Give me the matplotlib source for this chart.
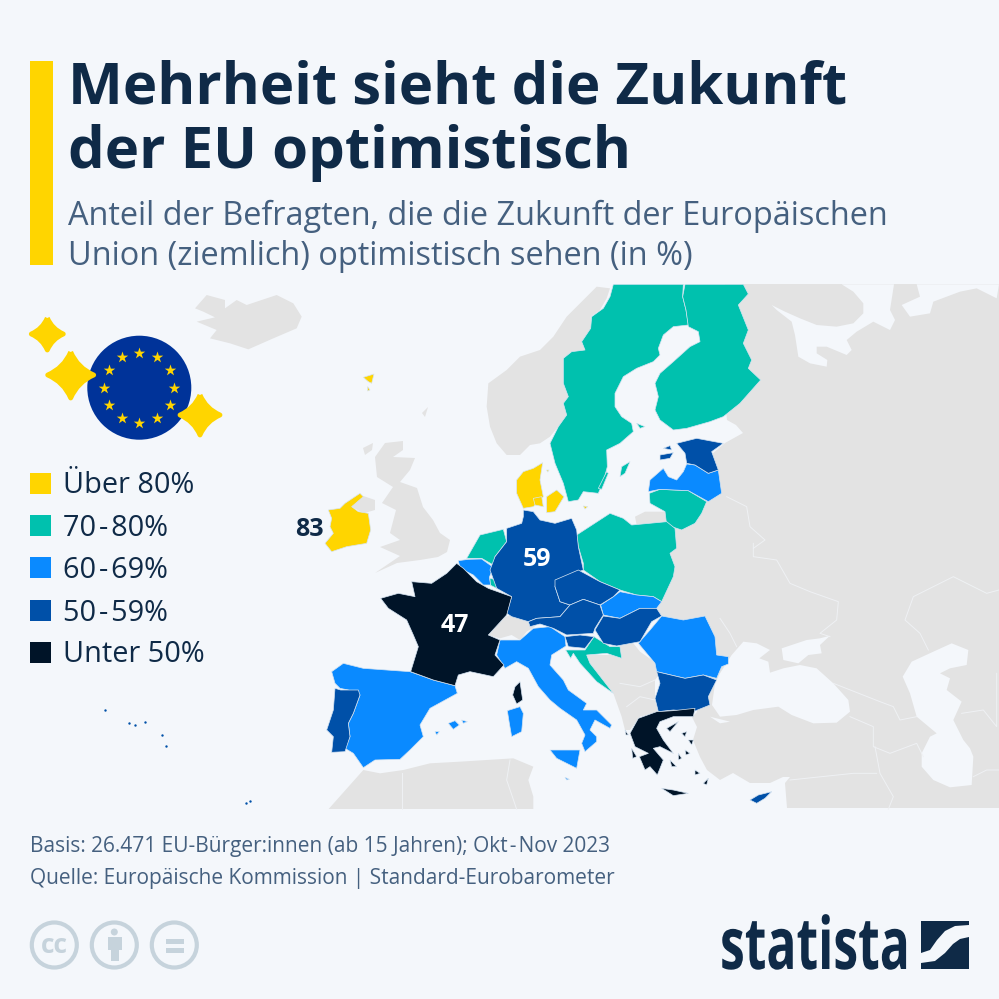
import numpy as np
import matplotlib
matplotlib.use('Agg')
import matplotlib.pyplot as plt
from matplotlib.patches import Polygon, Circle, Rectangle, PathPatch
from matplotlib.path import Path
from matplotlib.patheffects import AbstractPathEffect
from matplotlib.transforms import Affine2D

BG = '#f4f7fb'
YELLOW = '#ffd500'
TEAL = '#00c1ae'
BLUE = '#0a8aff'
DARKBLUE = '#0050a8'
BLACK = '#001428'
GRAY = '#e3e3e3'
NAVY = '#0f2a47'
SLATE = '#45607f'
ICON = '#c6d3dc'

# Legende
legend_labels = ['Über 80%', '70\u200a-\u200a80%', '60\u200a-\u200a69%', '50\u200a-\u200a59%', 'Unter 50%']
legend_colors = [YELLOW, TEAL, BLUE, DARKBLUE, BLACK]

# Werte auf der Karte
map_values = ['83', '59', '47']

A = (320, 280, 3)
B = (320, 540, 3)
C = (720, 280, 3)
D = (720, 540, 3)
E = (100, 280, 3)
F = (440, 490, 3)
P = (0, 0, 1)

# Graue Länder
iceland = (E, [(285,85),(320,45),(375,60),(375,85),(410,60),(440,75),(530,45),(580,70),(605,110),(590,145),(520,175),(445,208),(390,190),(330,175),(350,150),(290,125),(345,112),(310,95)])
britain = (P, [(385,443),(403,441),(403,450),(393,457),(415,458),(410,470),(400,482),(417,488),(423,507),(433,520),(440,533),(450,540),(447,552),(438,557),(420,560),(397,563),(375,573),(400,556),(380,547),(400,540),(390,533),(396,510),(382,503),(393,487),(377,477),(375,457)])
hebrides = (P, [(363,448),(373,443),(372,450),(365,455)])
shetland = (P, [(422,413),(428,407),(425,417)])
n_ireland = (E, [(755,680),(790,648),(825,660),(825,690),(790,700)])
norway = (A, [(870,25),(860,55),(840,90),(812,110),(815,145),(785,185),(795,210),(755,215),(730,235),(730,310),(745,350),(730,370),(740,405),(715,440),(690,470),(660,490),(630,495),(600,525),(560,525),(530,490),(510,440),(500,380),(505,310),(560,270),(600,230),(660,210),(700,170),(740,110),(790,60),(830,20)])
east = (P, [(725,284),(999,284),(999,808),(787,808),(785,783),(790,777),(783,777),(770,783),(750,783),(733,773),(720,780),(707,770),(700,757),(693,740),(697,727),(692,717),(697,712),(690,690),(690,640),(655,612),(650,580),(650,540),(670,520),(700,490),(705,460),(725,443),(743,433),(736,425),(727,420),(725,400)])
kaliningrad = (A, [(945,710),(975,695),(1040,695),(1040,725),(950,735)])
balkans = (B, [(900,310),(940,310),(960,335),(1010,370),(1020,400),(1005,420),(1005,480),(1015,515),(960,530),(930,570),(915,570),(905,530),(880,460),(810,370),(800,345),(900,345)])
swiss = (B, [(505,285),(530,255),(540,235),(590,220),(625,235),(645,260),(620,275),(600,300),(575,285),(540,295)])
africa = (B, [(25,808),(130,690),(180,700),(250,690),(330,670),(420,665),(580,655),(640,680),(625,720),(640,770),(640,808)])

# Wasserflächen über dem Festland
white_sea = (C, [(365,13),(400,35),(430,70),(430,100),(400,130),(350,140),(290,135),(240,115),(195,95),(155,75),(170,90),(215,125),(225,165),(235,230),(270,250),(320,260),(322,240),(290,220),(290,200),(320,200),(380,225),(395,210),(380,180),(410,155),(460,125),(510,150),(525,120),(510,90),(522,13)])
barents = (C, [(590,13),(600,50),(545,75),(570,110),(630,100),(640,65),(720,35),(770,25),(830,55),(837,13)])
black_sea = (D, [(0,530),(50,525),(100,510),(175,500),(215,525),(280,550),(350,548),(390,515),(385,480),(340,430),(290,385),(240,375),(190,385),(150,398),(145,365),(118,355),(150,330),(110,310),(70,305),(35,345),(0,400),(-15,430),(-24,495)])
azov = (D, [(185,325),(260,300),(300,295),(330,287),(300,315),(305,340),(265,345),(235,370),(190,360)])
marmara = (D, [(-30,530),(30,545),(0,550)])
caspian = (D, [(695,310),(745,330),(740,375),(690,385),(660,400),(690,415),(680,450),(725,485),(700,540),(730,600),(750,625),(760,650),(755,735),(690,742),(640,720),(605,680),(605,640),(630,590),(650,580),(590,530),(570,460),(548,410),(575,365),(640,335)])

# Länder nach Kategorie
over80 = [
    (E, [(735,670),(780,640),(790,650),(755,680),(775,695),(805,700),(812,750),(800,790),(740,800),(695,815),(675,790),(700,760),(690,740),(695,715),(685,690),(720,685)]),
    (E, [(790,292),(822,282),(815,310),(805,305)]),
    (E, [(803,320),(810,330),(803,333)]),
    (A, [(590,600),(610,575),(640,565),(668,548),(660,600),(670,650),(640,680),(610,685),(590,640)]),
    (A, [(680,650),(710,630),(732,650),(705,695),(680,698)]),
    (A, [(640,655),(665,650),(670,680),(645,675)]),
    (A, [(790,678),(803,680),(795,687)]),
    (A, [(680,570),(687,570),(683,576)]),
]
from70 = [
    (A, [(880,13),(1090,13),(1088,50),(1098,90),(1105,135),(1060,140),(1030,165),(1015,205),(1020,225),(1000,245),(950,265),(910,290),(885,340),(885,380),(905,410),(935,430),(940,455),(900,490),(860,510),(862,560),(850,605),(835,640),(790,635),(775,660),(745,665),(730,610),(705,550),(690,490),(715,440),(740,405),(730,370),(745,350),(730,310),(730,235),(755,215),(795,210),(785,185),(812,145),(815,110),(850,85),(870,50)]),
    (A, [(1095,13),(1270,13),(1285,42),(1255,75),(1285,150),(1270,190),(1295,240),(1285,265),(1322,300),(1260,370),(1210,410),(1170,425),(1100,445),(1060,450),(1020,420),(1005,390),(1015,350),(1005,310),(1020,280),(1060,245),(1110,200),(1140,185),(1135,155),(1105,140),(1098,90),(1088,50)]),
    (A, [(950,430),(975,440),(960,445)]),
    (A, [(900,590),(905,560),(930,545),(915,580)]),
    (A, [(835,625),(860,575),(865,580),(845,628)]),
    (A, [(988,640),(1020,628),(1105,632),(1160,665),(1145,700),(1125,730),(1085,750),(1040,735),(1035,695),(990,670)]),
    (F, [(410,135),(510,70),(550,85),(575,105),(680,95),(705,115),(710,175),(690,190),(705,230),(700,260),(665,335),(640,320),(590,315),(540,300),(480,275),(430,240),(430,220),(415,170)]),
    (F, [(80,205),(120,135),(190,118),(200,155),(165,200),(160,225),(125,205)]),
    (F, [(150,265),(170,270),(170,295),(150,285)]),
    (B, [(795,330),(822,290),(870,320),(900,320),(905,355),(860,340),(800,345),(810,370),(880,460),(830,425),(780,370),(760,340),(752,355),(737,330)]),
]
from60 = [
    (A, [(985,635),(990,600),(1030,565),(1045,590),(1070,600),(1090,575),(1100,552),(1125,555),(1165,580),(1195,570),(1205,640),(1165,665),(1105,632),(1020,628)]),
    (F, [(55,212),(85,208),(125,207),(160,232),(148,262),(152,285),(130,285),(100,255),(60,235)]),
    (F, [(482,345),(520,320),(540,305),(590,315),(640,320),(665,335),(650,355),(600,355),(540,385),(490,375)]),
    (B, [(955,310),(990,270),(1025,228),(1090,240),(1155,228),(1185,290),(1190,345),(1225,350),(1225,372),(1205,380),(1190,415),(1150,405),(1095,415),(1010,395),(1005,370)]),
    (B, [(35,395),(70,370),(130,385),(270,395),(340,420),(405,437),(412,460),(330,505),(300,555),(310,590),(270,630),(240,658),(165,660),(130,683),(100,640),(75,625),(90,590),(85,550),(100,520),(120,465),(85,450),(60,445),(45,430)]),
    (B, [(385,550),(405,542),(418,555),(400,568)]),
    (B, [(425,540),(442,545),(430,550)]),
    (B, [(345,575),(358,575),(350,585)]),
    (B, [(530,345),(540,300),(575,300),(600,300),(640,265),(690,260),(735,290),(738,318),(695,345),(690,375),(730,420),(745,450),(800,490),(790,510),(830,510),(875,555),(870,565),(825,540),(810,570),(830,590),(830,605),(795,635),(785,610),(795,585),(770,540),(720,505),(690,480),(655,440),(625,385),(590,365),(555,385)]),
    (B, [(690,630),(780,630),(770,685),(740,670),(710,655)]),
    (B, [(562,512),(600,500),(610,520),(605,575),(575,590),(568,550)]),
    (B, [(735,712),(748,718),(740,720)]),
]
from50 = [
    (A, [(1070,490),(1130,475),(1210,490),(1175,515),(1195,570),(1165,580),(1125,555),(1100,550),(1095,520)]),
    (A, [(1020,525),(1060,518),(1050,535),(1020,540)]),
    (A, [(1030,505),(1050,497),(1055,510)]),
    (F, [(250,60),(280,65),(300,90),(345,100),(395,85),(410,120),(415,170),(430,240),(350,270),(345,290),(360,335),(390,345),(360,380),(290,385),(265,395),(215,380),(200,370),(215,320),(170,295),(150,240),(165,200),(200,155),(200,115),(245,100),(250,80)]),
    (F, [(345,270),(415,240),(480,275),(540,300),(520,320),(480,345),(430,328),(390,345),(360,335),(345,290)]),
    (F, [(265,395),(290,385),(360,380),(390,345),(430,328),(480,345),(490,375),(465,415),(460,430),(380,435),(340,415),(300,402),(270,410)]),
    (F, [(490,378),(540,385),(600,355),(650,355),(665,378),(635,395),(600,455),(530,468),(490,460),(465,420)]),
    (B, [(735,290),(780,285),(822,290),(795,325),(745,320)]),
    (B, [(1010,395),(1095,415),(1150,405),(1190,420),(1165,470),(1170,495),(1120,515),(1060,510),(1015,515),(1005,475),(1020,430)]),
    (B, [(45,445),(62,450),(115,450),(120,465),(100,520),(85,550),(90,590),(75,635),(35,637),(40,590),(20,570),(40,510)]),
    (D, [(90,780),(115,765),(155,755),(135,775),(110,790)]),
]
under50 = [
    (B, [(410,70),(430,85),(470,125),(505,145),(575,170),(560,225),(505,285),(540,300),(525,345),(552,375),(520,410),(450,395),(415,405),(405,437),(340,420),(272,395),(295,320),(280,285),(260,240),(205,205),(182,175),(235,160),(285,170),(275,125),(335,130),(380,100)]),
    (B, [(600,425),(608,480),(590,492),(578,465),(585,440)]),
    (B, [(930,580),(955,535),(1010,515),(1060,512),(1125,505),(1120,530),(1060,530),(1020,545),(1010,565),(1030,600),(1060,640),(1020,620),(1000,625),(1030,660),(1012,705),(990,680),(975,690),(958,650),(985,640),(945,620)]),
    (B, [(1025,745),(1060,750),(1105,760),(1060,767)]),
    (B, [(1105,600),(1120,600),(1115,615)]),
    (B, [(1095,630),(1110,640),(1098,645)]),
    (B, [(1150,730),(1165,715),(1160,735)]),
    (B, [(1040,565),(1075,545),(1050,575)]),
    (B, [(915,570),(925,585),(918,585)]),
    (B, [(935,625),(950,650),(938,655)]),
    (B, [(1050,660),(1070,680),(1055,680)]),
    (B, [(1125,690),(1140,700),(1125,705)]),
    (B, [(1075,640),(1085,655),(1075,660)]),
    (B, [(1085,580),(1100,575),(1095,590)]),
]
# Azoren, Madeira, Kanaren (nur als Punkte)
atlantic_x = [105, 129, 135, 145, 162, 166, 246, 250]
atlantic_y = [710, 723, 725, 722, 735, 746, 803, 801]

# Blasse Grenzlinien
border_lines = [
    (C, [(20,650),(80,680),(90,740),(135,780),(100,805)]),
    (D, [(100,10),(100,50),(170,60),(210,130),(270,155),(355,185),(350,240),(300,280),(330,290)]),
    (D, [(0,235),(30,280),(50,320)]),
    (D, [(625,330),(600,280),(555,240),(580,170),(700,110),(800,160),(837,150)]),
    (D, [(340,430),(480,485),(520,500),(540,540),(590,530)]),
    (D, [(390,530),(460,560),(460,620),(510,640),(590,610),(610,650)]),
    (D, [(465,620),(480,700),(520,770),(505,808)]),
    (D, [(210,720),(400,700),(470,700)]),
    (D, [(725,520),(790,510),(830,560),(830,400)]),
    (D, [(760,710),(800,690),(837,690)]),
    (B, [(245,700),(245,808)]),
    (B, [(570,660),(560,720),(590,808)]),
    (B, [(900,430),(960,440),(1005,420)]),
    (B, [(920,500),(960,470),(1005,480)]),
]


def to_px(shape):
    origin, coords = shape
    return [(origin[0] + x / origin[2], origin[1] + y / origin[2]) for x, y in coords]


class SqueezeX(AbstractPathEffect):
    # Logo-Schrift ist schmaler als alle installierten Schriften
    def __init__(self, sx, x0):
        super().__init__()
        self.sx = sx
        self.x0 = x0

    def draw_path(self, renderer, gc, tpath, affine, rgbFace=None):
        squeeze = Affine2D().translate(-self.x0, 0).scale(self.sx, 1).translate(self.x0, 0)
        renderer.draw_path(gc, tpath, affine + squeeze, rgbFace)


fig = plt.figure(figsize=(9.99, 9.99), dpi=100, facecolor=BG)
ax = fig.add_axes([0, 0, 1, 1])
ax.set_xlim(0, 999)
ax.set_ylim(999, 0)
ax.axis('off')

plt.rcParams['font.family'] = ['Open Sans', 'DejaVu Sans']

map_clip = Rectangle((0, 284), 999, 524.5, transform=ax.transData)


def add_shape(shape, color, edge=None, lw=0, z=2):
    p = Polygon(to_px(shape), closed=True, facecolor=color, edgecolor=edge if edge else color, linewidth=lw, zorder=z, joinstyle='round')
    ax.add_patch(p)
    p.set_clip_path(map_clip)


# Kopfzeile
ax.add_patch(Rectangle((30, 61), 23, 204, color=YELLOW, lw=0))
ax.text(68, 103, 'Mehrheit sieht die Zukunft', fontsize=41.9, fontweight='bold', color=NAVY, va='baseline')
ax.text(68, 168, 'der EU optimistisch', fontsize=41.9, fontweight='bold', color=NAVY, va='baseline')
ax.text(68, 225, 'Anteil der Befragten, die die Zukunft der Europäischen', fontsize=23.4, color=SLATE, va='baseline')
ax.text(68, 265, 'Union (ziemlich) optimistisch sehen (in %)', fontsize=23.4, color=SLATE, va='baseline')

# Graues Festland
for shape in [iceland, britain, hebrides, shetland, n_ireland, norway, east, kaliningrad, balkans, swiss, africa]:
    add_shape(shape, GRAY, z=2)
for shape in [white_sea, barents, black_sea, azov, marmara, caspian]:
    add_shape(shape, BG, z=3)
for line in border_lines:
    xy = np.array(to_px(line))
    ax.plot(xy[:, 0], xy[:, 1], color='#eff1f4', lw=0.7, zorder=4, clip_path=map_clip)

# EU-Länder
for group, color in zip([over80, from70, from60, from50, under50], legend_colors):
    for shape in group:
        add_shape(shape, color, edge='#d6e4f2', lw=0.5, z=5)
ax.scatter(atlantic_x, atlantic_y, s=3, color=DARKBLUE, linewidths=0, zorder=5)

# Werte
ax.text(309, 536, map_values[0], fontsize=18, fontweight='bold', color=NAVY, ha='center', va='baseline', zorder=6)
ax.text(537, 566, map_values[1], fontsize=18, fontweight='bold', color='white', ha='center', va='baseline', zorder=6)
ax.text(455, 632, map_values[2], fontsize=18, fontweight='bold', color='white', ha='center', va='baseline', zorder=6)

# Legende
legend_tops = [473, 515, 557, 600, 642]
legend_base = [493, 536, 578, 621, 662]
for top, base, label, color in zip(legend_tops, legend_base, legend_labels, legend_colors):
    ax.add_patch(Rectangle((30, top), 21, 21, color=color, lw=0))
    ax.text(63, base, label, fontsize=20.8, color=NAVY, va='baseline')

# EU-Flagge
ax.add_patch(Circle((139.3, 387.7), 52, color='#003399', lw=0, zorder=6))
angles = np.arange(12) * np.pi / 6
ax.scatter(139.3 + 35 * np.sin(angles), 387.7 - 35 * np.cos(angles), marker='*', s=75, color=YELLOW, linewidths=0, zorder=7)


def sparkle(cx, cy, r):
    k = 0.3 * r
    verts = [(cx, cy - r), (cx + k, cy - k), (cx + r, cy), (cx + k, cy + k), (cx, cy + r), (cx - k, cy + k), (cx - r, cy), (cx - k, cy - k), (cx, cy - r)]
    codes = [Path.MOVETO] + [Path.CURVE3] * 8
    ax.add_patch(PathPatch(Path(verts, codes), facecolor=YELLOW, edgecolor=YELLOW, lw=3.5, joinstyle='round', zorder=8))


sparkle(47.3, 334, 16)
sparkle(70.7, 375, 23)
sparkle(200, 415, 20)

# Fußzeile
ax.text(30, 852, 'Basis: 26.471 EU-Bürger:innen (ab 15 Jahren); Okt\u200a-\u200aNov 2023', fontsize=15, color=SLATE, va='baseline')
ax.text(30, 884, 'Quelle: Europäische Kommission | Standard-Eurobarometer', fontsize=15, color=SLATE, va='baseline')

# Lizenz-Symbole
for cx in [54.3, 114.3, 174.3]:
    ax.add_patch(Circle((cx, 945), 22.5, facecolor='none', edgecolor=ICON, lw=3))
ax.text(54.3, 953, 'cc', fontsize=19, fontweight='bold', color=ICON, ha='center', va='baseline')
ax.add_patch(Circle((114.3, 932), 3.5, color=ICON, lw=0))
ax.add_patch(Rectangle((107.5, 937), 14, 13, color=ICON, lw=0))
ax.add_patch(Rectangle((110.5, 950), 8, 11, color=ICON, lw=0))
ax.add_patch(Rectangle((166, 939), 18, 4.5, color=ICON, lw=0))
ax.add_patch(Rectangle((166, 948), 18, 4.5, color=ICON, lw=0))

# Logo
ax.text(720, 969, 'statista', fontsize=52, fontweight='bold', color=NAVY, va='baseline', path_effects=[SqueezeX(0.69, 720)])
ax.add_patch(Polygon([(921, 921), (969, 921), (969, 925), (955, 926), (945, 931), (937, 940), (930, 950), (921, 953)], color=NAVY, lw=0))
ax.add_patch(Polygon([(969, 937), (969, 969), (921, 969), (921, 963), (935, 961), (945, 953), (953, 944), (960, 939)], color=NAVY, lw=0))

fig.savefig('out.png', dpi=100, facecolor=BG)
